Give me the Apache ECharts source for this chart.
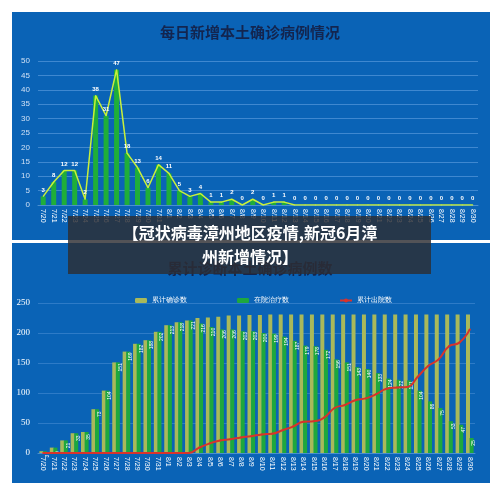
<!DOCTYPE html><html><head><meta charset="utf-8"><script src="https://cdn.jsdelivr.net/npm/echarts@6/dist/echarts.min.js"></script>
<style>html,body{margin:0;background:#fff}#c{width:500px;height:485px}</style></head><body><div id="c"></div><script>
const dates=['7/20','7/21','7/22','7/23','7/24','7/25','7/26','7/27','7/28','7/29','7/30','7/31','8/1','8/2','8/3','8/4','8/5','8/6','8/7','8/8','8/9','8/10','8/11','8/12','8/13','8/14','8/15','8/16','8/17','8/18','8/19','8/20','8/21','8/22','8/23','8/24','8/25','8/26','8/27','8/28','8/29','8/30'];
const daily=[3,8,12,12,2,38,31,47,18,13,6,14,11,5,3,4,1,1,2,0,2,0,1,1,0,0,0,0,0,0,0,0,0,0,0,0,0,0,0,0,0,0];
const cumulative=[3,9,21,33,35,73,104,151,169,182,188,202,213,218,221,225,226,227,229,229,230,230,231,231,231,231,231,231,231,231,231,231,231,231,231,231,231,231,231,231,231,231];
const hospital=[3,9,21,33,35,73,104,151,169,182,188,202,213,218,221,216,210,206,206,203,203,200,199,194,187,179,178,172,156,151,143,140,133,124,122,121,104,86,75,53,47,25];
const discharged=[0,0,0,0,0,0,0,0,0,0,0,0,0,0,0,9,16,21,23,26,28,31,32,38,44,52,53,59,75,80,88,91,98,107,109,110,127,145,156,178,184,206];
const chart=echarts.init(document.getElementById('c'));
const xl={color:'#fff',fontSize:7,rotate:-90,interval:0,margin:4};
chart.setOption({
 animation:false,
 graphic:[
  {type:'rect',shape:{x:12,y:12,width:478,height:228},style:{fill:'#0a63b6'},z:-10},
  {type:'rect',shape:{x:12,y:243,width:478,height:240},style:{fill:'#0a63b6'},z:-10},
  {type:'text',x:250,y:32,style:{text:'每日新增本土确诊病例情况',fill:'#13254f',font:'bold 15px "Noto Sans CJK SC"',textAlign:'center',textVerticalAlign:'middle'}},
  {type:'text',x:250,y:268,style:{text:'累计诊断本土确诊病例数',fill:'#13254f',font:'bold 15px "Noto Sans CJK SC"',textAlign:'center',textVerticalAlign:'middle'}},
  {type:'rect',shape:{x:68,y:216,width:363,height:58},style:{fill:'rgba(45,45,50,0.82)'},z:100},
  {type:'text',x:250,y:245,z:101,style:{text:'【冠状病毒漳州地区疫情,新冠6月漳\n州新增情况】',fill:'#fff',font:'bold 16px "Noto Sans CJK SC"',lineHeight:24,textAlign:'center',textVerticalAlign:'middle'}}
 ],
 legend:{top:292,left:130,itemWidth:12,itemHeight:5,itemGap:50,textStyle:{color:'#fff',fontSize:7},data:['累计确诊数','在院治疗数','累计出院数']},
 grid:[{left:38,right:22,top:61,bottom:280},{left:38,right:25,top:303,bottom:32}],
 xAxis:[
  {gridIndex:0,type:'category',data:dates,axisLabel:xl,axisTick:{show:false},axisLine:{lineStyle:{color:'#4a8fd0'}}},
  {gridIndex:1,type:'category',data:dates,axisLabel:xl,axisTick:{show:false},axisLine:{lineStyle:{color:'#4a8fd0'}}}
 ],
 yAxis:[
  {gridIndex:0,min:0,max:50,interval:5,axisLabel:{color:'#cfe0f5',fontSize:8},splitLine:{lineStyle:{color:'#3f88d0'}}},
  {gridIndex:1,min:0,max:250,interval:50,axisLabel:{color:'#fff',fontSize:9,fontFamily:'Liberation Serif'},splitLine:{lineStyle:{color:'#2e7bc7'}}}
 ],
 series:[
  {type:'bar',xAxisIndex:0,yAxisIndex:0,data:daily,barWidth:5,itemStyle:{color:'#1fae3a'}},
  {type:'line',xAxisIndex:0,yAxisIndex:0,data:daily,symbol:'circle',symbolSize:1,showSymbol:true,itemStyle:{color:'#c8f03a'},lineStyle:{color:'#c8f03a',width:1.5},label:{show:true,color:'#fff',fontSize:6,fontWeight:'bold',position:'top',distance:3}},
  {name:'累计确诊数',type:'bar',xAxisIndex:1,yAxisIndex:1,data:cumulative,barWidth:4,barGap:'-10%',itemStyle:{color:'#a9b95a'}},
  {name:'在院治疗数',type:'bar',xAxisIndex:1,yAxisIndex:1,data:hospital,barWidth:4,itemStyle:{color:'#1ea83d'},label:{show:true,position:'insideTop',color:'#fff',fontSize:5,rotate:90}},
  {name:'累计出院数',type:'line',xAxisIndex:1,yAxisIndex:1,data:discharged,symbol:'circle',symbolSize:2,smooth:true,lineStyle:{color:'#d9332b',width:2},itemStyle:{color:'#d9332b'}}
 ]
});
</script></body></html>
